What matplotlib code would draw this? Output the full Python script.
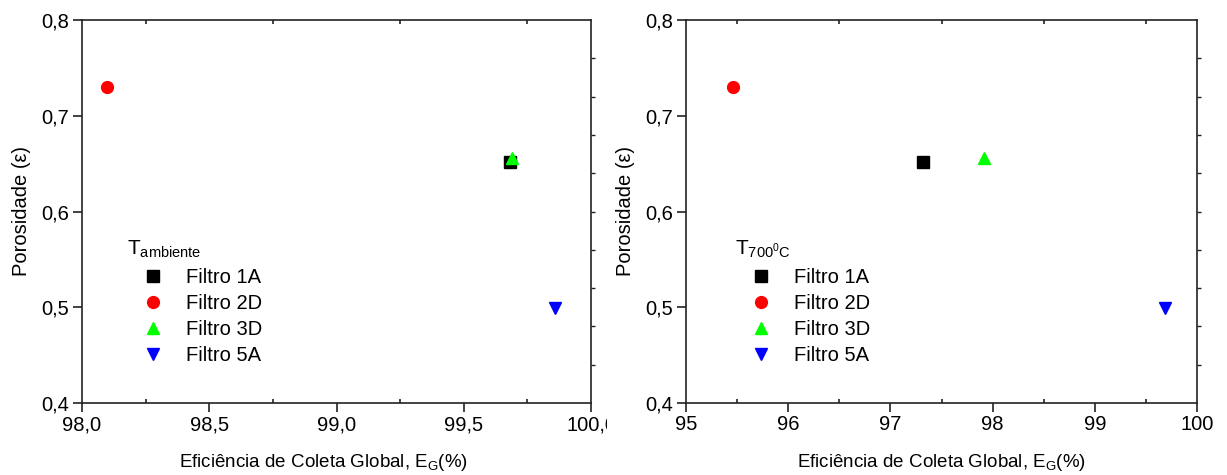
import matplotlib
matplotlib.use("Agg")
import matplotlib.pyplot as plt
from matplotlib.lines import Line2D
from matplotlib.transforms import Bbox, TransformedBbox
import numpy as np

plt.rcParams['font.family'] = ['Liberation Sans', 'DejaVu Sans']
plt.rcParams['mathtext.fontset'] = 'custom'
plt.rcParams['mathtext.rm'] = 'Liberation Sans'
plt.rcParams['mathtext.it'] = 'Liberation Sans'

# Filters and their styles
filters = ['Filtro 1A', 'Filtro 2D', 'Filtro 3D', 'Filtro 5A']
markers = ['s', 'o', '^', 'v']
colors = ['#000000', '#ff0000', '#00ff00', '#0000ff']

# Porosity of each filter
porosity = [0.652, 0.730, 0.656, 0.499]

# Global collection efficiency (%) at room temperature and after 700 °C
eff_ambient = [99.68, 98.10, 99.69, 99.86]
eff_700 = [97.32, 95.46, 97.92, 99.69]

# Axis ticks
left_xticks = [98.0, 98.5, 99.0, 99.5, 100.0]
left_xlabels = ['98,0', '98,5', '99,0', '99,5', '100,0']
right_xticks = [95, 96, 97, 98, 99, 100]
right_xlabels = ['95', '96', '97', '98', '99', '100']
yticks = [0.4, 0.5, 0.6, 0.7, 0.8]
ylabels = ['0,4', '0,5', '0,6', '0,7', '0,8']

W, H = 1227, 475
fig = plt.figure(figsize=(W / 100, H / 100), dpi=100)
ax1 = fig.add_axes([82 / W, 1 - 403 / H, 509 / W, 383 / H])
ax2 = fig.add_axes([686 / W, 1 - 403 / H, 511 / W, 383 / H])

spine_col = '#222222'
FS = 14.5


def marker_size(m):
    return 8 if m == 's' else 8.5


def style(ax, xticks, xlabels, xlim, minor_step, title, leg_x, xlabel_x):
    for s in ax.spines.values():
        s.set_linewidth(1.2)
        s.set_color(spine_col)
    ax.set_xlim(*xlim)
    ax.set_ylim(0.4, 0.8)
    ax.set_xticks(xticks)
    ax.set_xticklabels(xlabels)
    ax.set_yticks(yticks)
    ax.set_yticklabels(ylabels)
    ax.set_xticks(np.arange(xlim[0] + minor_step, xlim[1], minor_step), minor=True)
    ax.tick_params(axis='both', which='major', direction='out', length=6.5,
                   width=1.2, color=spine_col, labelsize=FS, pad=2.5)
    ax.tick_params(axis='x', which='minor', direction='in', length=3,
                   width=1.2, color=spine_col, top=True)
    # ticks along the right spine
    sec = ax.secondary_yaxis('right')
    sec.set_yticks(np.arange(0.44, 0.79, 0.04))
    sec.tick_params(length=3, width=1.0, color=spine_col, labelright=False)
    sec.spines['right'].set_visible(False)

    ax.set_xlabel(r'Eficiência de Coleta Global, E$_{\mathregular{G}}$(%)',
                  fontsize=13.5)
    ax.xaxis.set_label_coords(xlabel_x, -0.127)
    ax.set_ylabel('Porosidade (ε)', fontsize=FS, labelpad=8)

    handles = [Line2D([], [], linestyle='none', marker=m, color=c,
                      markersize=marker_size(m))
               for m, c in zip(markers, colors)]
    ax.legend(handles, filters, title=title, loc='upper left',
              bbox_to_anchor=(leg_x, 0.428), frameon=False, fontsize=FS,
              title_fontsize=15, alignment='left', labelspacing=0.36,
              handletextpad=0.34, handlelength=2.6, borderpad=0.0,
              borderaxespad=0.0)


style(ax1, left_xticks, left_xlabels, (98.0, 100.0), 0.25,
      r'T$_{\mathregular{ambiente}}$', 45 / 509, 0.4735)
style(ax2, right_xticks, right_xlabels, (95.0, 100.0), 0.5,
      r'T$_{\mathregular{700^0C}}$', 49 / 511, 0.5)

for x, y, m, c in zip(eff_ambient, porosity, markers, colors):
    ax1.plot([x], [y], linestyle='none', marker=m, color=c,
             markersize=marker_size(m), clip_on=False, zorder=3)
for x, y, m, c in zip(eff_700, porosity, markers, colors):
    ax2.plot([x], [y], linestyle='none', marker=m, color=c,
             markersize=marker_size(m), clip_on=False, zorder=3)

# the last tick label of the left panel is cut by the right panel
clip = TransformedBbox(Bbox([[0, 0], [607 / W, 1]]), fig.transFigure)
lbl = ax1.xaxis.get_major_ticks()[-1].label1
lbl.set_clip_box(clip)
lbl.set_clip_on(True)

fig.savefig('out.png', dpi=100, facecolor='white')
